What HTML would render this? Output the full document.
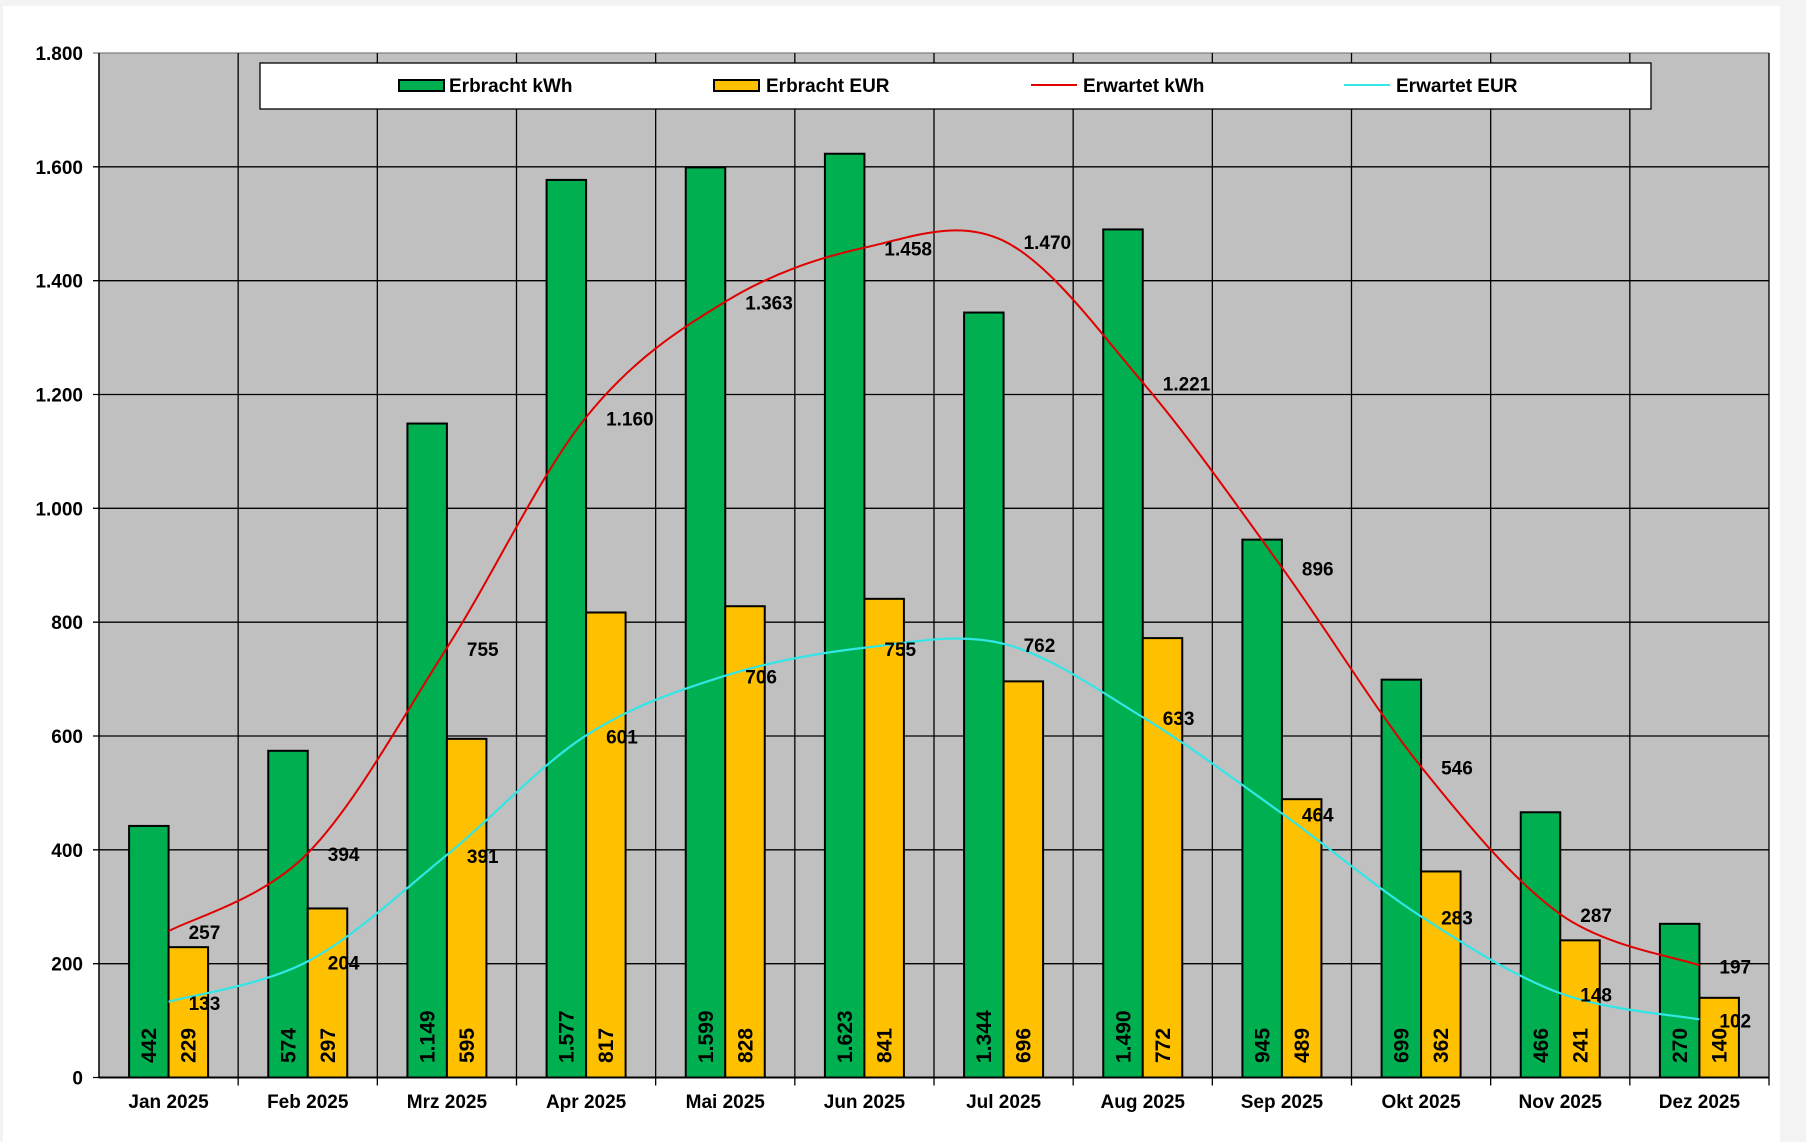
<!DOCTYPE html>
<html><head><meta charset="utf-8"><style>
html,body{margin:0;padding:0;background:#f3f3f3;}
svg{display:block;font-family:"Liberation Sans",Arial,sans-serif;font-weight:bold;}
</style></head><body>
<svg id="c" width="1806" height="1142" xmlns="http://www.w3.org/2000/svg"></svg>
<script>
const S=document.getElementById('c');
const L=99,T=53,R=1769,B=1077.5,cw=(R-L)/12,k=(B-T)/1800;
const Y=v=>B-v*k, CX=i=>L+cw*(i+0.5);
const g=[442,574,1149,1577,1599,1623,1344,1490,945,699,466,270];
const e=[229,297,595,817,828,841,696,772,489,362,241,140];
const rk=[257,394,755,1160,1363,1458,1470,1221,896,546,287,197];
const re=[133,204,391,601,706,755,762,633,464,283,148,102];
const m=['Jan','Feb','Mrz','Apr','Mai','Jun','Jul','Aug','Sep','Okt','Nov','Dez'];
const fmt=v=>v>=1000?Math.floor(v/1000)+'.'+String(v%1000).padStart(3,'0'):String(v);
let h='<rect x="3" y="6" width="1777" height="1136" fill="#fff"/>';
h+=`<rect x="${L}" y="${T}" width="${R-L}" height="${B-T}" fill="#c0c0c0"/>`;
for(let i=0;i<=9;i++){const y=Y(i*200);h+=`<line x1="${L-6}" x2="${R}" y1="${y}" y2="${y}" stroke="${i==9?'#808080':'#000'}" stroke-width="1.3"/>`;
h+=`<text x="83" y="${y+7}" text-anchor="end" font-size="19">${fmt(i*200)}</text>`;}
for(let i=1;i<=12;i++){const x=L+cw*i;h+=`<line x1="${x}" x2="${x}" y1="${T}" y2="${B+8}" stroke="#000" stroke-width="1.3"/>`;}
h+=`<line x1="${L}" x2="${L}" y1="${T}" y2="${B}" stroke="#000" stroke-width="1.5"/><line x1="${L}" x2="${R}" y1="${B}" y2="${B}" stroke="#000" stroke-width="2"/>`;
for(let i=0;i<12;i++){const c=CX(i);
h+=`<rect x="${c-39.5}" y="${Y(g[i])}" width="39.5" height="${B-Y(g[i])}" fill="#00b050" stroke="#000" stroke-width="2"/>`;
h+=`<rect x="${c}" y="${Y(e[i])}" width="39.5" height="${B-Y(e[i])}" fill="#ffc000" stroke="#000" stroke-width="2"/>`;
h+=`<text transform="translate(${c-19.5+7},1063) rotate(-90)" font-size="21">${fmt(g[i])}</text>`;
h+=`<text transform="translate(${c+20+7},1063) rotate(-90)" font-size="21">${fmt(e[i])}</text>`;
h+=`<text x="${c}" y="1108" text-anchor="middle" font-size="19">${m[i]} 2025</text>`;}
function sp(a){const p=a.map((v,i)=>[CX(i),Y(v)]);let d=`M${p[0][0]},${p[0][1]}`;
for(let i=0;i<p.length-1;i++){const p0=p[i-1]||p[i],p1=p[i],p2=p[i+1],p3=p[i+2]||p2;
d+=` C${p1[0]+(p2[0]-p0[0])/6},${p1[1]+(p2[1]-p0[1])/6} ${p2[0]-(p3[0]-p1[0])/6},${p2[1]-(p3[1]-p1[1])/6} ${p2[0]},${p2[1]}`;}return d;}
h+=`<path d="${sp(rk)}" fill="none" stroke="#e00000" stroke-width="2"/>`;
h+=`<path d="${sp(re)}" fill="none" stroke="#33e6e6" stroke-width="2.2"/>`;
for(let i=0;i<12;i++){const c=CX(i);
h+=`<text x="${c+20}" y="${Y(rk[i])+8}" font-size="19">${fmt(rk[i])}</text>`;
h+=`<text x="${c+20}" y="${Y(re[i])+8}" font-size="19">${fmt(re[i])}</text>`;}
h+='<rect x="260" y="63" width="1391" height="46" fill="#fff" stroke="#000" stroke-width="1.3"/>';
h+='<rect x="399" y="80" width="45" height="11" fill="#00b050" stroke="#000" stroke-width="2"/><text x="449" y="92" font-size="19">Erbracht kWh</text>';
h+='<rect x="714" y="80" width="45" height="11" fill="#ffc000" stroke="#000" stroke-width="2"/><text x="766" y="92" font-size="19">Erbracht EUR</text>';
h+='<line x1="1031" x2="1077" y1="85" y2="85" stroke="#e00000" stroke-width="2"/><text x="1083" y="92" font-size="19">Erwartet kWh</text>';
h+='<line x1="1344" x2="1390" y1="85" y2="85" stroke="#33e6e6" stroke-width="2"/><text x="1396" y="92" font-size="19">Erwartet EUR</text>';
S.innerHTML=h;
</script>
</body></html>
